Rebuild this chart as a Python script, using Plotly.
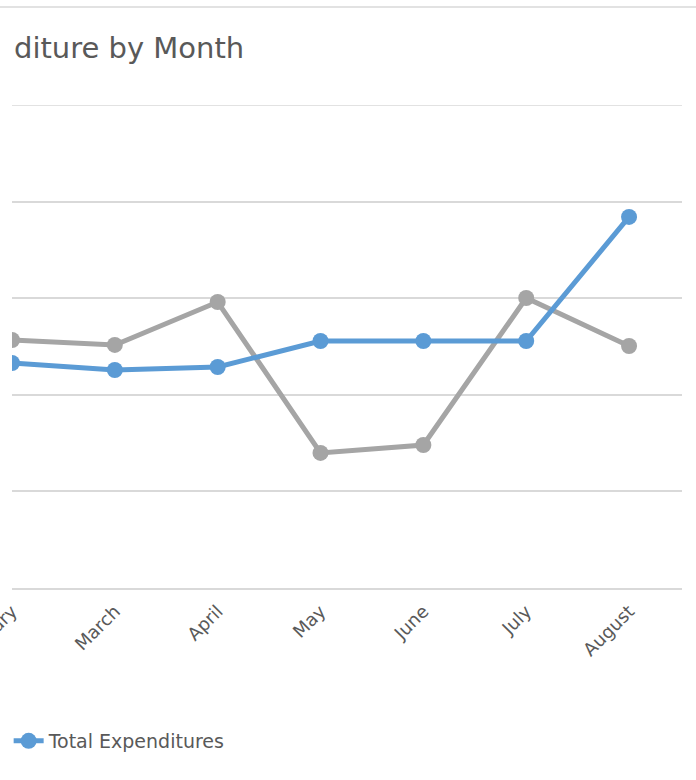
import plotly.graph_objects as go

months = ["February", "March", "April", "May", "June", "July", "August"]
total_expenditures = [2329, 2257, 2288, 2557, 2557, 2557, 3841]
total_budget = [2567, 2516, 2961, 1398, 1480, 3002, 2505]

FONT = "DejaVu Sans"
TXT = "#595959"
GRID = "#D9D9D9"

fig = go.Figure()
fig.add_trace(go.Scatter(
    x=months, y=total_budget, mode="lines+markers", name="Total Budget",
    line=dict(color="#A5A5A5", width=5), marker=dict(size=16, color="#A5A5A5"),
    showlegend=False,
))
fig.add_trace(go.Scatter(
    x=months, y=total_expenditures, mode="lines+markers", name="Total Expenditures",
    line=dict(color="#5B9BD5", width=5), marker=dict(size=16, color="#5B9BD5"),
))

W, H = 696, 780
L, R, T, B = 12, 14, 105, 192
pw = W - L - R
ph = H - T - B

fig.update_layout(
    width=W, height=H,
    margin=dict(l=L, r=R, t=T, b=B, autoexpand=False),
    paper_bgcolor="white", plot_bgcolor="white",
    font=dict(family=FONT, color=TXT, size=14),
    xaxis=dict(
        type="category", range=[0, 6.515], showgrid=False,
        showline=True, linecolor=GRID, linewidth=1.5,
        ticks="", tickangle=-45, automargin=False, ticklabelstandoff=4,
        tickfont=dict(family=FONT, size=18, color=TXT),
    ),
    yaxis=dict(
        range=[0, 5000], dtick=1000, showgrid=True, gridcolor=GRID, gridwidth=1.5,
        zeroline=False, showticklabels=False, ticks="", automargin=False,
    ),
    showlegend=True,
    legend=dict(
        x=-0.005, xanchor="left", y=(588 - 741) / ph, yanchor="middle",
        orientation="h", font=dict(family=FONT, size=19, color=TXT),
        bgcolor="rgba(0,0,0,0)",
    ),
    shapes=[
        dict(
            type="line", xref="paper", yref="paper",
            x0=-L / pw, x1=(W - L) / pw, y0=(588 - 7) / ph, y1=(588 - 7) / ph,
            line=dict(color=GRID, width=1.5),
        ),
        dict(
            type="line", xref="paper", yref="y",
            x0=0, x1=1, y0=5000, y1=5000,
            line=dict(color=GRID, width=1.5), layer="below",
        ),
    ],
    annotations=[dict(
        text="diture by Month", xref="paper", yref="paper",
        x=0, xanchor="left", y=(588 - 48) / ph, yanchor="middle",
        showarrow=False, font=dict(family=FONT, size=29, color=TXT),
    )],
)

fig.write_html("out.html")
